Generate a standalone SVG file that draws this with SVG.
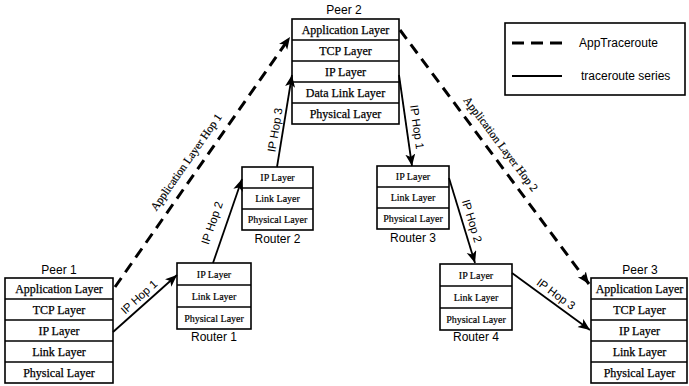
<svg xmlns="http://www.w3.org/2000/svg" width="689" height="386" viewBox="0 0 689 386">
<style>
.box{fill:#fff;stroke:#000;stroke-width:1.6}
.sep{stroke:#000;stroke-width:1.4}
.lp{font-family:"Liberation Serif","Times New Roman",serif;font-size:12px;fill:#000;stroke:#000;stroke-width:0.25;text-anchor:middle;dominant-baseline:central}
.lr{font-family:"Liberation Serif","Times New Roman",serif;font-size:10px;fill:#000;stroke:#000;stroke-width:0.2;text-anchor:middle;dominant-baseline:central}
.ttl{font-family:"Liberation Sans",Arial,sans-serif;font-size:12px;fill:#000;text-anchor:middle}
.hop{font-family:"Liberation Sans",Arial,sans-serif;font-size:11.5px;fill:#000;text-anchor:middle;dominant-baseline:central}
.app{font-family:"Liberation Serif","Times New Roman",serif;font-size:11.5px;fill:#000;stroke:#000;stroke-width:0.2;text-anchor:middle;dominant-baseline:central}
.leg{font-family:"Liberation Sans",Arial,sans-serif;font-size:12px;fill:#000;dominant-baseline:central}
.dash{fill:none;stroke:#000;stroke-width:3;stroke-dasharray:11 7}
.solid{fill:none;stroke:#000;stroke-width:1.8}
</style>
<defs>
<marker id="ah" markerUnits="userSpaceOnUse" markerWidth="13" markerHeight="11" refX="12" refY="5" orient="auto">
<path d="M0,0 L12,5 L0,10 L3,5 z" fill="#000"/>
</marker>
</defs>

<g id="peer1">
<text class="ttl" x="59" y="274">Peer 1</text>
<rect class="box" x="5" y="278" width="108" height="105"/>
<line class="sep" x1="5" y1="299" x2="113" y2="299"/>
<line class="sep" x1="5" y1="320" x2="113" y2="320"/>
<line class="sep" x1="5" y1="341" x2="113" y2="341"/>
<line class="sep" x1="5" y1="362" x2="113" y2="362"/>
<text class="lp" x="59" y="288.5">Application Layer</text>
<text class="lp" x="59" y="309.5">TCP Layer</text>
<text class="lp" x="59" y="330.5">IP Layer</text>
<text class="lp" x="59" y="351.5">Link Layer</text>
<text class="lp" x="59" y="372.5">Physical Layer</text>
</g>

<g id="peer2">
<text class="ttl" x="344" y="14">Peer 2</text>
<rect class="box" x="292" y="19" width="107" height="105"/>
<line class="sep" x1="292" y1="40" x2="399" y2="40"/>
<line class="sep" x1="292" y1="61" x2="399" y2="61"/>
<line class="sep" x1="292" y1="82" x2="399" y2="82"/>
<line class="sep" x1="292" y1="103" x2="399" y2="103"/>
<text class="lp" x="345.5" y="29.5">Application Layer</text>
<text class="lp" x="345.5" y="50.5">TCP Layer</text>
<text class="lp" x="345.5" y="71.5">IP Layer</text>
<text class="lp" x="345.5" y="92.5">Data Link Layer</text>
<text class="lp" x="345.5" y="113.5">Physical Layer</text>
</g>

<g id="peer3">
<text class="ttl" x="640" y="274">Peer 3</text>
<rect class="box" x="591" y="278" width="96" height="105"/>
<line class="sep" x1="591" y1="299" x2="687" y2="299"/>
<line class="sep" x1="591" y1="320" x2="687" y2="320"/>
<line class="sep" x1="591" y1="341" x2="687" y2="341"/>
<line class="sep" x1="591" y1="362" x2="687" y2="362"/>
<text class="lp" x="639.5" y="288.5">Application Layer</text>
<text class="lp" x="639.5" y="309.5">TCP Layer</text>
<text class="lp" x="639.5" y="330.5">IP Layer</text>
<text class="lp" x="639.5" y="351.5">Link Layer</text>
<text class="lp" x="639.5" y="372.5">Physical Layer</text>
</g>

<g id="router1">
<rect class="box" x="177" y="263" width="74" height="66"/>
<line class="sep" x1="177" y1="285" x2="251" y2="285"/>
<line class="sep" x1="177" y1="307" x2="251" y2="307"/>
<text class="lr" x="214" y="274">IP Layer</text>
<text class="lr" x="214" y="296">Link Layer</text>
<text class="lr" x="214" y="318">Physical Layer</text>
<text class="ttl" x="214" y="341">Router 1</text>
</g>

<g id="router2">
<rect class="box" x="242" y="167" width="71" height="63"/>
<line class="sep" x1="242" y1="188" x2="313" y2="188"/>
<line class="sep" x1="242" y1="209" x2="313" y2="209"/>
<text class="lr" x="277.5" y="177.5">IP Layer</text>
<text class="lr" x="277.5" y="198.5">Link Layer</text>
<text class="lr" x="277.5" y="219.5">Physical Layer</text>
<text class="ttl" x="277.5" y="243">Router 2</text>
</g>

<g id="router3">
<rect class="box" x="377" y="166" width="72" height="63"/>
<line class="sep" x1="377" y1="187" x2="449" y2="187"/>
<line class="sep" x1="377" y1="208" x2="449" y2="208"/>
<text class="lr" x="413" y="176.5">IP Layer</text>
<text class="lr" x="413" y="197.5">Link Layer</text>
<text class="lr" x="413" y="218.5">Physical Layer</text>
<text class="ttl" x="413" y="242">Router 3</text>
</g>

<g id="router4">
<rect class="box" x="440" y="264" width="72" height="66"/>
<line class="sep" x1="440" y1="286" x2="512" y2="286"/>
<line class="sep" x1="440" y1="308" x2="512" y2="308"/>
<text class="lr" x="476" y="275">IP Layer</text>
<text class="lr" x="476" y="297">Link Layer</text>
<text class="lr" x="476" y="319">Physical Layer</text>
<text class="ttl" x="476" y="341">Router 4</text>
</g>

<g id="legend">
<rect class="box" x="505" y="23" width="180" height="72"/>
<line class="dash" x1="512" y1="43" x2="563" y2="43" style="stroke-dasharray:12 7"/>
<text class="leg" x="579" y="43">AppTraceroute</text>
<line class="solid" x1="512" y1="76" x2="562" y2="76"/>
<text class="leg" x="581" y="76">traceroute series</text>
</g>

<g id="connectors">
<line class="dash" x1="115" y1="287" x2="290" y2="37" marker-end="url(#ah)"/>
<line class="dash" x1="400" y1="30" x2="589" y2="284" marker-end="url(#ah)"/>
<line class="solid" x1="113" y1="332" x2="177" y2="275" marker-end="url(#ah)"/>
<line class="solid" x1="213" y1="263" x2="242" y2="179" marker-end="url(#ah)"/>
<line class="solid" x1="277" y1="167" x2="292" y2="75" marker-end="url(#ah)"/>
<line class="solid" x1="399" y1="75" x2="412" y2="166" marker-end="url(#ah)"/>
<line class="solid" x1="449" y1="178" x2="475" y2="263" marker-end="url(#ah)"/>
<line class="solid" x1="512" y1="273" x2="590" y2="330" marker-end="url(#ah)"/>
<text class="app" transform="translate(186,162) rotate(-55)">Application Layer Hop 1</text>
<text class="app" transform="translate(501,144) rotate(53)">Application Layer Hop 2</text>
<text class="hop" transform="translate(139,297) rotate(-42)">IP Hop 1</text>
<text class="hop" transform="translate(212,223) rotate(-71)">IP Hop 2</text>
<text class="hop" transform="translate(275,130) rotate(-80.5)">IP Hop 3</text>
<text class="hop" transform="translate(417,127) rotate(82)">IP Hop 1</text>
<text class="hop" transform="translate(472,221) rotate(73)">IP Hop 2</text>
<text class="hop" transform="translate(556,294) rotate(36)">IP Hop 3</text>
</g>
</svg>
